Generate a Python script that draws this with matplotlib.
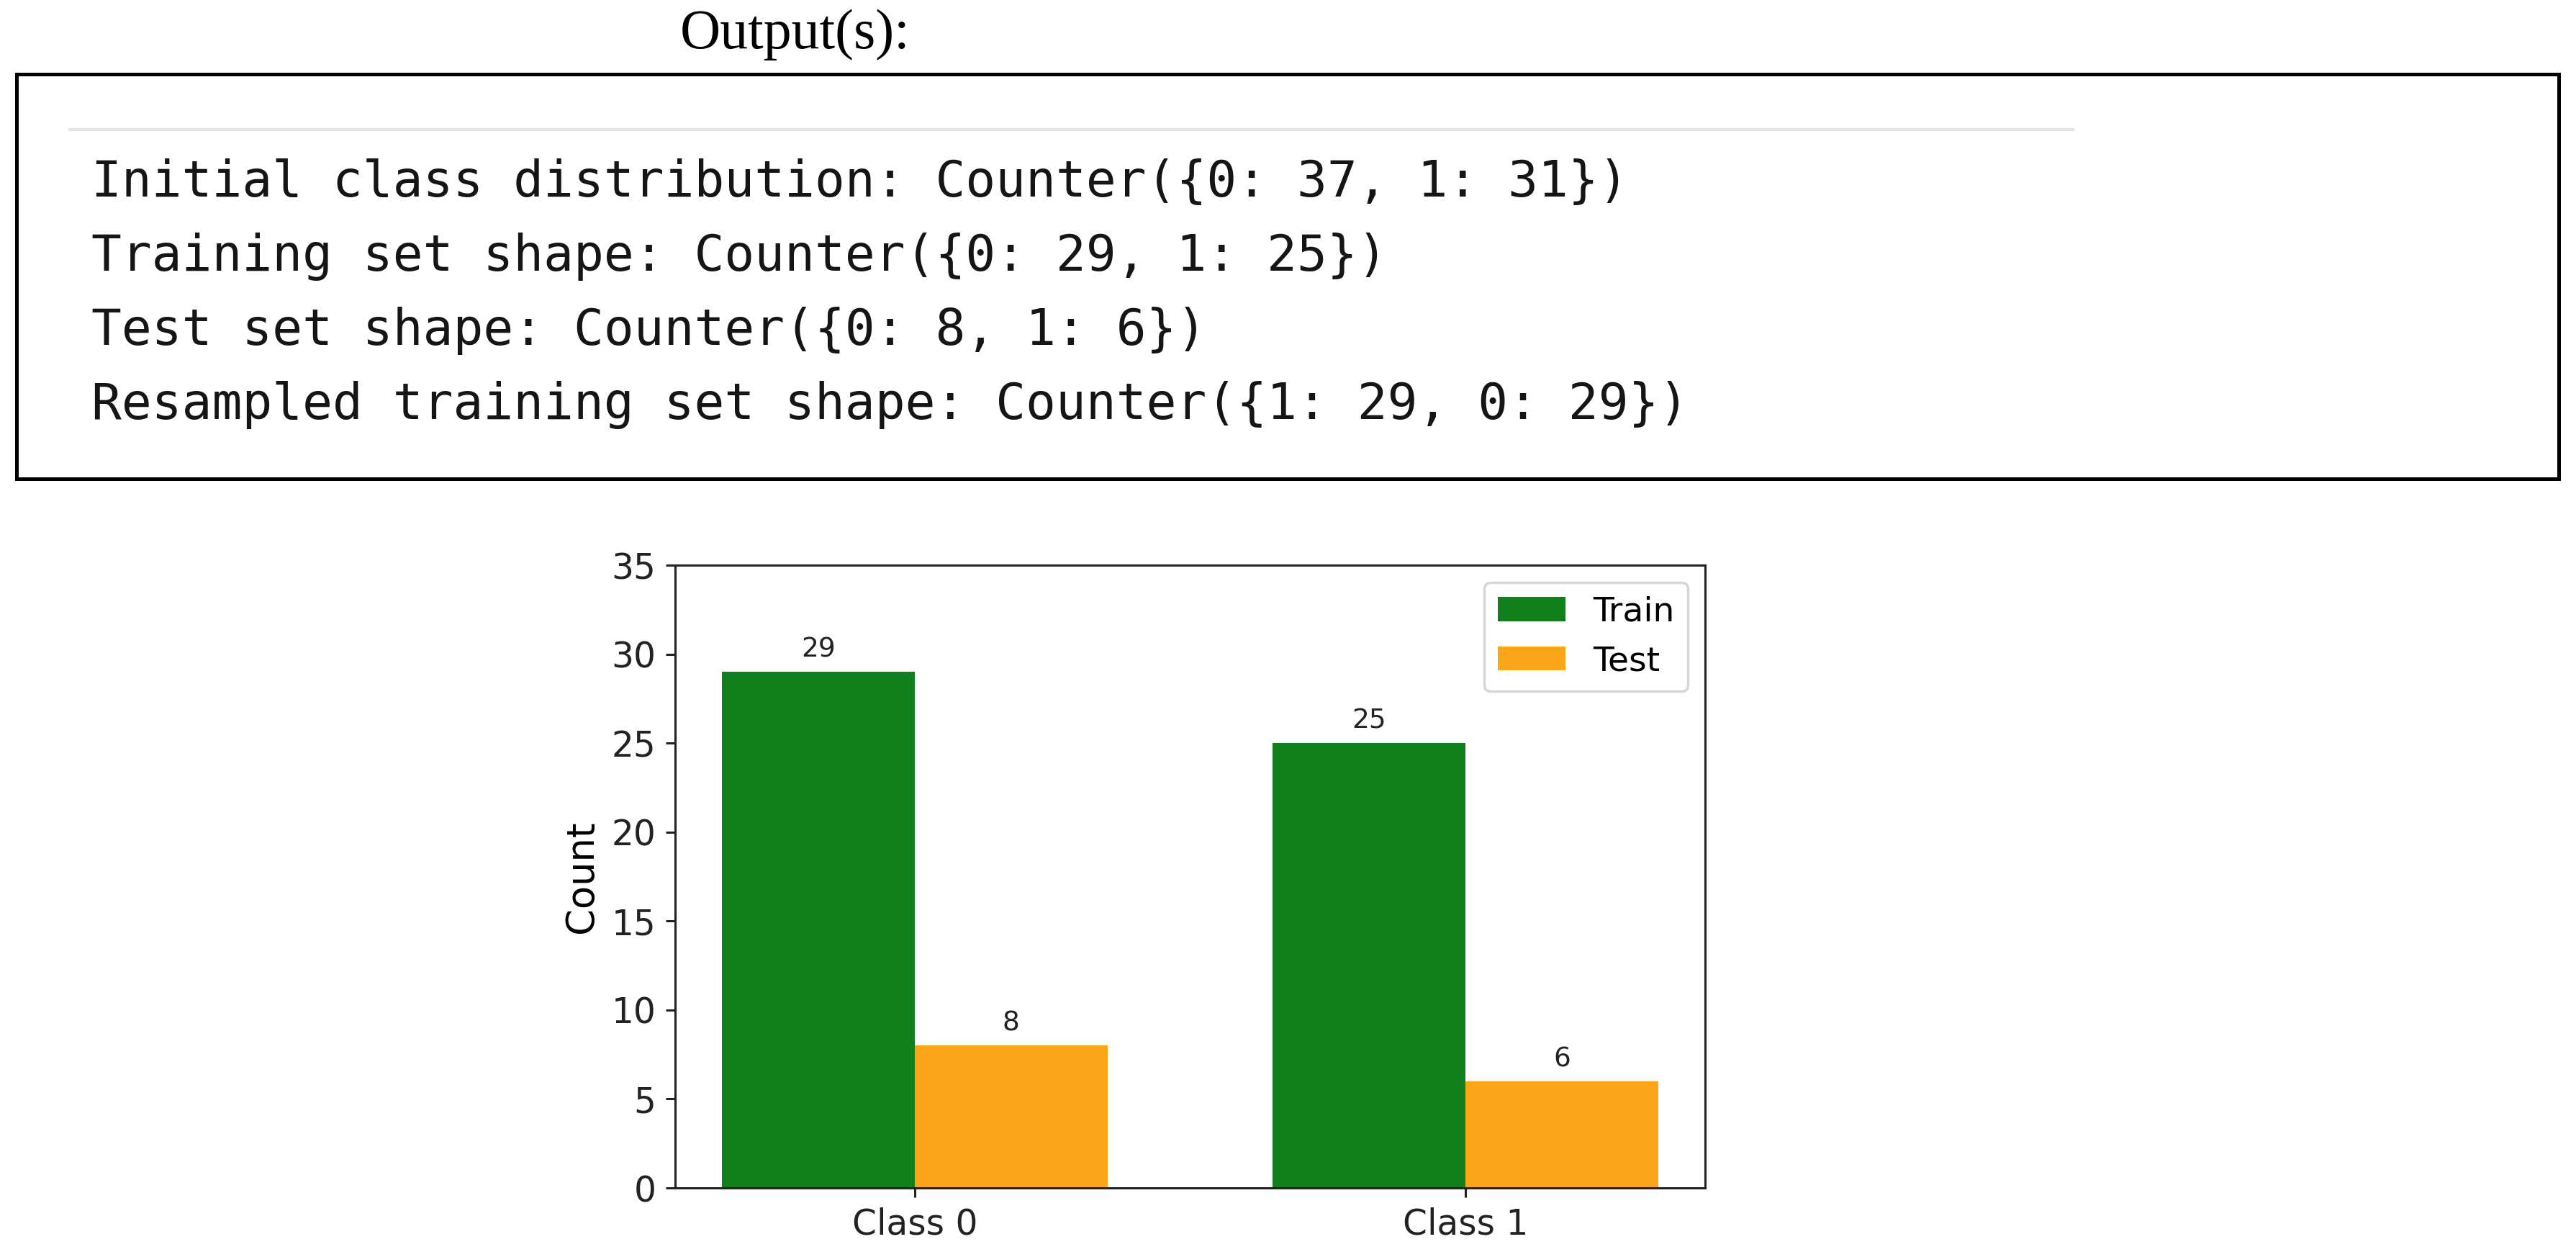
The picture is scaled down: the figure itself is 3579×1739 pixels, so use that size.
import matplotlib
matplotlib.use("Agg")
import matplotlib.pyplot as plt
import numpy as np
from matplotlib.patches import Rectangle
from matplotlib.lines import Line2D

# ---- data ----
categories = ["Class 0", "Class 1"]
train_counts = [29, 25]
test_counts = [8, 6]
series_names = ["Train", "Test"]
y_ticks = [0, 5, 10, 15, 20, 25, 30, 35]
panel_title = "Output(s):"
output_lines = [
    "Initial class distribution: Counter({0: 37, 1: 31})",
    "Training set shape: Counter({0: 29, 1: 25})",
    "Test set shape: Counter({0: 8, 1: 6})",
    "Resampled training set shape: Counter({1: 29, 0: 29})",
]

W, H = 3579, 1739
DPI = 100
fig = plt.figure(figsize=(W / DPI, H / DPI), dpi=DPI)
fig.patch.set_facecolor("white")


def fx(px):
    return px / W


def fy(py):
    return 1 - py / H


# ---- top text panel ----
fig.text(fx(1105), fy(67), panel_title, fontsize=56, family=["Liberation Serif", "DejaVu Serif"],
         ha="center", va="baseline", color="black")

box = Rectangle((fx(22.5), fy(664.5)), fx(3554.5) - fx(22.5), fy(103.5) - fy(664.5),
                transform=fig.transFigure, fill=False, edgecolor="black", linewidth=3.6)
fig.add_artist(box)

sep = Line2D([fx(97), fx(2880)], [fy(180), fy(180)], transform=fig.transFigure,
             color="#e4e4e4", linewidth=3.2)
fig.add_artist(sep)

for i, line in enumerate(output_lines):
    fig.text(fx(127), fy(273 + 103 * i), line, fontsize=50, family="DejaVu Sans Mono",
             ha="left", va="baseline", color="#151515")

# ---- bar chart ----
left, right, top, bottom = 938, 2369, 785, 1650
ax = fig.add_axes([fx(left), fy(bottom), fx(right) - fx(left), fy(top) - fy(bottom)])

x = np.arange(len(categories))
width = 0.35
green = "#117f1b"
orange = "#fba519"
b1 = ax.bar(x - width / 2, train_counts, width, label=series_names[0], color=green)
b2 = ax.bar(x + width / 2, test_counts, width, label=series_names[1], color=orange)

for bars in (b1, b2):
    for rect in bars:
        h = rect.get_height()
        ax.annotate(f"{h:g}", xy=(rect.get_x() + rect.get_width() / 2, h),
                    xytext=(0, 9), textcoords="offset points",
                    ha="center", va="bottom", fontsize=27, color="#222222")

ax.set_ylim(0, 35)
ax.set_yticks(y_ticks)
ax.set_xticks(x)
ax.set_xticklabels(categories)
ax.set_ylabel("Count", fontsize=38, labelpad=11)
ax.tick_params(axis="both", labelsize=35, length=9.6, width=2.2, pad=9.6, colors="#222222")
for s in ax.spines.values():
    s.set_linewidth(2.2)
    s.set_color("#222222")

leg = ax.legend(fontsize=34, loc="upper right", frameon=True)
leg.get_frame().set_linewidth(2.5)

fig.savefig("out.png", dpi=DPI)
